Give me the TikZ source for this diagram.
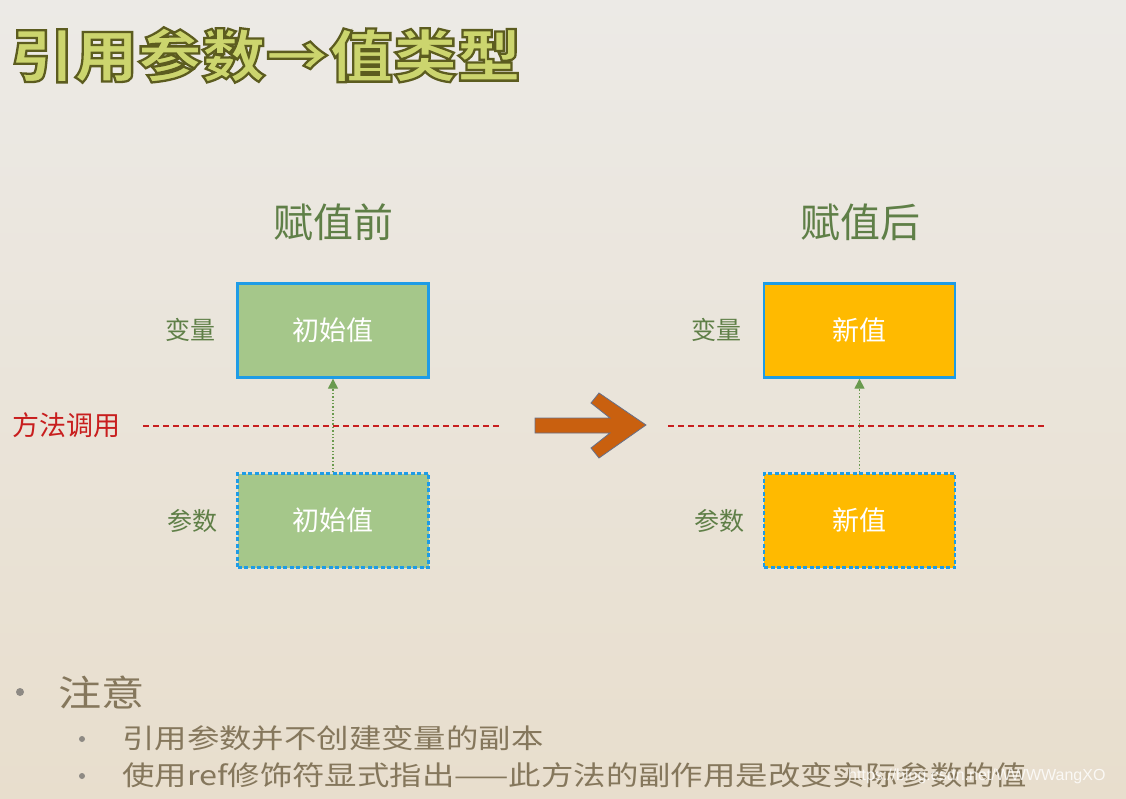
\documentclass[tikz,border=0pt]{standalone}
\usepackage{fontspec}
\setmainfont{Noto Sans CJK SC}
\newfontfamily\cjk{Noto Sans CJK SC}
\newfontfamily\cjkwide[FakeStretch=1.2]{Noto Sans CJK SC}
\newfontfamily\cjktitle[FakeStretch=1.12,FakeBold=4]{Noto Sans CJK SC}
\newfontfamily\wmfont{Liberation Sans}
\usetikzlibrary{arrows.meta}
\definecolor{bgtop}{HTML}{ECEAE6}
\definecolor{bgmid}{HTML}{F1EFEB}
\definecolor{bgbot}{HTML}{E8DECD}
\definecolor{labgreen}{HTML}{5F7F47}
\definecolor{boxblue}{HTML}{1E9CE6}
\definecolor{boxgreen}{HTML}{A5C78A}
\definecolor{boxorange}{HTML}{FFBA00}
\definecolor{linered}{HTML}{C81E1E}
\definecolor{arrowgreen}{HTML}{6A9A4E}
\definecolor{arroworange}{HTML}{C9600F}
\definecolor{arrowedge}{HTML}{66708A}
\definecolor{notetext}{HTML}{85775C}
\definecolor{bulletgray}{HTML}{8E8A84}
\newcommand{\titletext}[1]{\special{pdf:bcolor [0.80 0.835 0.43] [0.36 0.36 0.12]}#1\special{pdf:ecolor}}
\begin{document}
\begin{tikzpicture}[x=1pt,y=-1pt,
  lab/.style={text=labgreen, font=\cjk\fontsize{25}{27}\selectfont, inner sep=0pt},
  heading/.style={text=labgreen, font=\cjk\fontsize{40}{42}\selectfont, inner sep=0pt},
  valbox/.style={minimum width=191pt, minimum height=94pt, line width=2.4pt, draw=boxblue,
    text=white, font=\cjk\fontsize{27}{29}\selectfont, inner sep=0pt},
  varbox/.style={valbox},
  argbox/.style={valbox, dash pattern=on 4pt off 2.5pt},
  redline/.style={draw=linered, line width=1.1pt, dash pattern=on 6pt off 4pt},
  passarrow/.style={draw=arrowgreen, line width=1.4pt, dotted, -{Triangle[width=10pt,length=10pt]}},
  note/.style={text=notetext, inner sep=0pt, anchor=west},
  bigbul/.style={circle, fill=bulletgray, inner sep=0pt, minimum size=8pt},
  smallbul/.style={circle, fill=bulletgray, inner sep=0pt, minimum size=6pt}
]
\useasboundingbox (0,0) rectangle (1126,799);
\shade[top color=bgtop, middle color=bgmid, bottom color=bgbot] (0,0) rectangle (1126,799);

% title
\node[anchor=west, inner sep=0pt, font=\cjktitle\bfseries\fontsize{57}{60}\selectfont] (title) at (10,55) {\titletext{引用参数→值类型}};

% headings
\node[heading] (h1) at (333,222) {赋值前};
\node[heading] (h2) at (860,222) {赋值后};

% boxes left
\node[varbox, fill=boxgreen] (v1) at (333,330.5) {初始值};
\node[argbox, fill=boxgreen] (p1) at (333,520.5) {初始值};
\node[lab, anchor=east] (lv1) at (216,330) {变量};
\node[lab, anchor=east] (lp1) at (218,521) {参数};

% boxes right
\node[varbox, fill=boxorange] (v2) at (859.5,330.5) {新值};
\node[argbox, fill=boxorange] (p2) at (859.5,520.5) {新值};
\node[lab, anchor=east] (lv2) at (742,330) {变量};
\node[lab, anchor=east] (lp2) at (745,521) {参数};

% method call lines
\node[anchor=west, inner sep=0pt, text=linered, font=\cjk\fontsize{27}{29}\selectfont] (call) at (12,425) {方法调用};
\coordinate (la) at (143,426);
\coordinate (lb) at (500,426);
\coordinate (ra) at (668,426);
\coordinate (rb) at (1047,426);
\draw[redline] (la) -- (lb);
\draw[redline] (ra) -- (rb);

% pass arrows
\draw[passarrow] (p1.north) -- (v1.south);
\draw[passarrow] (p2.north) -- (v2.south);

% big arrow
\draw[fill=arroworange, draw=arrowedge, line width=0.8pt, line join=miter]
  (535,418) -- (610,418) -- (591,403) -- (599,393) -- (646,425) -- (599,458)
  -- (591,448) -- (610,433) -- (535,433) -- cycle;

% notes
\node[bigbul] (b0) at (20,692) {};
\node[note, font=\cjkwide\fontsize{36}{38}\selectfont] (n0) at (58,692) {注意};
\node[smallbul] (b1) at (82,739) {};
\node[note, font=\cjkwide\fontsize{27}{29}\selectfont] (n1) at (122,738) {引用参数并不创建变量的副本};
\node[smallbul] (b2) at (82,776) {};
\node[note, font=\cjkwide\fontsize{27}{29}\selectfont] (n2) at (122,775) {使用ref修饰符显式指出——此方法的副作用是改变实际参数的值};

% watermark
\node[anchor=west, inner sep=0pt, text=white, opacity=0.8, font=\wmfont\fontsize{16}{18}\selectfont] (wm) at (848,776) {https://blog.csdn.net/WWWWangXO};
\end{tikzpicture}
\end{document}
